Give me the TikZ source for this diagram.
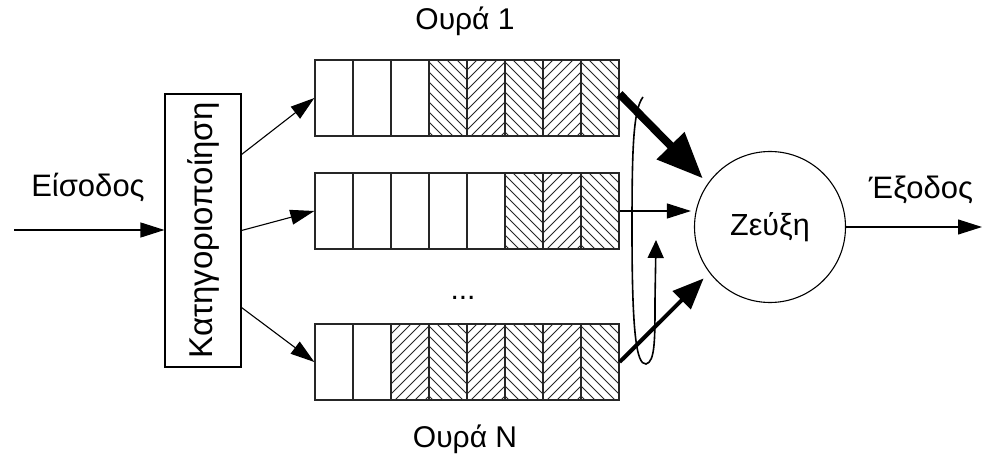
\documentclass[tikz,border=0pt]{standalone}
\usepackage{fontspec}
\setmainfont{Liberation Sans}
\usetikzlibrary{arrows.meta}
\newcommand\qcells[3]{%
  \foreach \i in {1,...,8}{%
    \pgfmathsetmacro\cx{#1+38*(\i-1)}%
    \ifnum\i<#3\relax\else
      \begin{scope}
        \clip (\cx,#2) rectangle ++(38,76);
        \ifodd\i
          \foreach \k in {0,10,...,120}{\draw[hatch] (\cx+\k,#2) -- ++(-90,90);}
        \else
          \foreach \k in {-82,-72,...,38}{\draw[hatch] (\cx+\k,#2) -- ++(90,90);}
        \fi
      \end{scope}
    \fi
  }%
  \foreach \i in {1,...,7}{\draw[divider] (#1+38*\i,#2) -- ++(0,76);}%
}
\begin{document}
\begin{tikzpicture}[x=1pt,y=-1pt,
  lbl/.style={font=\fontsize{31}{36}\selectfont, inner sep=0pt},
  qlbl/.style={font=\fontsize{30}{35}\selectfont, inner sep=0pt},
  queue/.style={draw=black!85, line width=1.3pt, minimum width=304pt, minimum height=76pt, inner sep=0pt},
  hatch/.style={line width=0.9pt, black!85},
  divider/.style={line width=1.3pt, black!85},
  thinarrow/.style={line width=1.1pt, -{Triangle[length=24pt,width=15pt]}},
  medarrow/.style={line width=4pt, -{Triangle[length=31pt,width=25pt]}},
  bigarrow/.style={line width=8pt, -{Triangle[length=46pt,width=37pt]}},
  looparrow/.style={line width=1.6pt, -{Triangle[length=18pt,width=16pt]}},
  box/.style={draw, line width=1.1pt, minimum width=76pt, minimum height=273pt, inner sep=0pt},
  joiner/.style={draw, circle, line width=1.1pt, minimum size=151pt, inner sep=0pt, font=\fontsize{30.5}{35}\selectfont}
]
\useasboundingbox (0,0) rectangle (982,454);

% queues
\qcells{315}{60}{4}
\qcells{315}{173}{6}
\qcells{315}{324}{3}
\node[queue] (q1) at (467,98) {};
\node[queue] (q2) at (467,211) {};
\node[queue] (qn) at (467,362) {};

\node[qlbl, anchor=base] (t1) at (465,30) {Ουρά 1};
\node[qlbl, anchor=base] (tn) at (465,447) {Ουρά N};
\node[qlbl, anchor=base] (dots) at (463,299) {...};

% classifier
\node[box] (cls) at (203,230.5) {\rotatebox{90}{\fontsize{33}{38}\selectfont Κατηγοριοποίηση}};

% joiner
\node[joiner] (z) at (770,227) {Ζεύξη};

% input / output
\coordinate (in) at (14,230);
\coordinate (out) at (982,227);
\node[lbl, anchor=base] (tin) at (88,197) {Είσοδος};
\node[lbl, anchor=base] (tout) at (921,199) {Έξοδος};

\draw[thinarrow] (in) -- (cls.west |- in);
\draw[thinarrow] (z.east) -- (out);

% classifier to queues
\draw[thinarrow] ([yshift=76pt]cls.east) -- (q1.west);
\draw[thinarrow] (cls.east) -- (q2.west);
\draw[thinarrow] ([yshift=-77pt]cls.east) -- (qn.west);

% queues to joiner
\draw[bigarrow, shorten >=7pt] ([yshift=4pt]q1.east) -- (z.145);
\draw[thinarrow, shorten >=3pt] (q2.east) -- (q2.east -| z.west);
\draw[medarrow, shorten >=8pt] (qn.east) -- (z.217);

% round-robin loop
\coordinate (lt) at (643,97);
\coordinate (le) at (656,240);
\draw[looparrow] (lt) .. controls (633,110) and (632,150) .. (632,230)
  .. controls (632,330) and (636,365) .. (646,364)
  .. controls (655,362) and (655,340) .. (655,300) -- (le);
\end{tikzpicture}
\end{document}
